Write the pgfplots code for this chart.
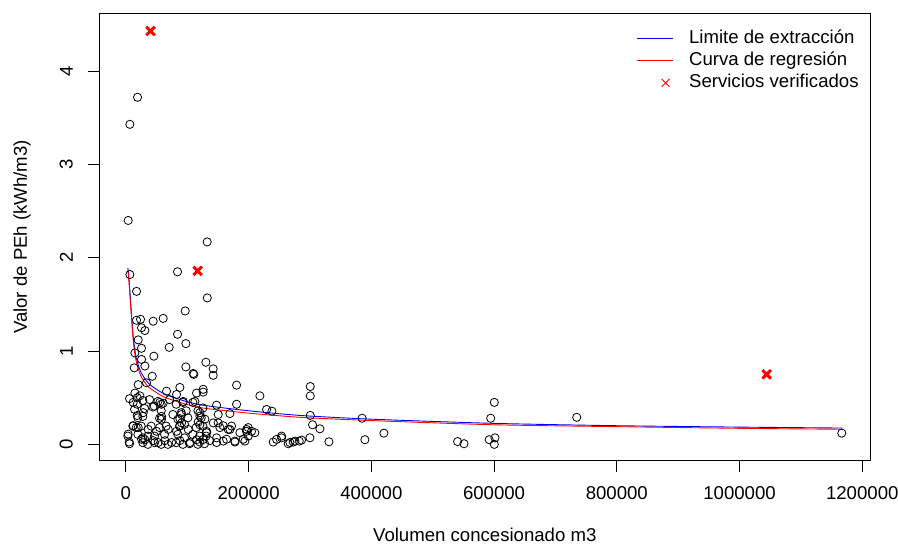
\documentclass[border=0pt]{standalone}
\usepackage{fontspec}
\setmainfont{Liberation Sans}
\usepackage{pgfplots}
\pgfplotsset{compat=1.18}
\newcommand{\fs}{\fontsize{18.6}{22}\selectfont}
\begin{document}
\begin{tikzpicture}
\begin{axis}[
  scale only axis, width=771pt, height=447.4pt,
  xmin=-43300, xmax=1213100, ymin=-0.175, ymax=4.62,
  axis line style={line width=0.8pt, black},
  xtick={0,200000,400000,600000,800000,1000000,1200000},
  xticklabels={0,200000,400000,600000,800000,1000000,1200000},
  ytick={0,1,2,3,4}, yticklabels={0,1,2,3,4},
  scaled x ticks=false, scaled y ticks=false,
  tick align=outside, xtick pos=bottom, ytick pos=left,
  major tick length=11pt,
  tick style={line width=0.8pt, black},
  every tick label/.append style={font=\fs},
  xticklabel style={anchor=north},
  yticklabel style={rotate=90, anchor=south},
  xticklabel shift=11pt, yticklabel shift=12pt,
  every axis x label/.style={at={(axis description cs:0.5,-0.1665)}, anchor=center, font=\fs},
  every axis y label/.style={at={(axis description cs:-0.10026,0.5)}, rotate=90, anchor=center, font=\fs},
  xlabel={Volumen concesionado m3},
  ylabel={Valor de PEh (kWh/m3)},
  legend style={at={(axis description cs:0.6961,0.963)}, anchor=north west, draw=none, fill=none,
    inner sep=0pt, font=\fs, row sep=4.5pt,
    nodes={inner sep=0pt, text height=13.5pt, text depth=4pt}},
  legend cell align=left,
  legend image code/.code={\draw[#1] (0pt,0pt) -- (36pt,0pt); \path (52pt,0pt);},
]
\addplot[only marks, mark=o, mark size=4.1pt, mark options={line width=0.8pt, black}, forget plot] table[row sep=\\] {
x y\\
19000 3.72\\ 6500 3.43\\ 3800 2.40\\ 132500 2.17\\
6500 1.82\\ 84200 1.85\\ 17400 1.64\\ 132600 1.57\\ 96700 1.43\\
17400 1.33\\ 23900 1.34\\ 44500 1.32\\ 60800 1.35\\ 25500 1.25\\ 31000 1.22\\
84200 1.18\\ 97800 1.08\\ 20100 1.12\\ 25500 1.03\\ 70600 1.04\\ 45600 0.945\\
14700 0.98\\ 25500 0.91\\ 13600 0.82\\ 31000 0.84\\ 97800 0.83\\ 109700 0.76\\
110800 0.75\\ 130400 0.88\\ 142300 0.81\\ 142300 0.74\\ 42900 0.73\\ 20100 0.64\\
33700 0.66\\ 180400 0.635\\ 218400 0.52\\ 88000 0.61\\ 66300 0.57\\ 14700 0.55\\
22800 0.52\\ 11950 0.45\\ 18500 0.43\\ 82600 0.535\\ 115200 0.55\\ 126000 0.56\\
112500 0.46\\ 55400 0.45\\ 60800 0.44\\ 93500 0.46\\ 46200 0.41\\ 147800 0.42\\
180400 0.43\\ 229300 0.374\\ 238000 0.356\\ 18500 0.31\\ 28300 0.34\\ 58100 0.30\\
90700 0.32\\ 120600 0.34\\ 150500 0.32\\ 169500 0.33\\ 58100 0.27\\ 88000 0.275\\
90700 0.23\\ 117900 0.24\\ 120600 0.21\\ 88000 0.20\\ 150500 0.23\\ 158600 0.20\\
11950 0.20\\ 20100 0.18\\ 36400 0.16\\ 50000 0.14\\ 69000 0.16\\ 82600 0.14\\
101600 0.16\\ 131500 0.14\\ 169500 0.16\\ 196700 0.14\\ 199400 0.18\\ 3800 0.11\\
5400 0.025\\ 25500 0.055\\ 31000 0.05\\ 44500 0.04\\ 52700 0.02\\ 63600 0.04\\
74400 0.02\\ 88000 0.04\\ 104300 0.02\\ 115200 0.05\\ 120600 0.025\\ 136900 0.04\\
147800 0.02\\ 164100 0.055\\ 177700 0.025\\ 191300 0.055\\ 210200 0.125\\ 240100 0.025\\
253700 0.07\\ 267300 0.02\\ 275500 0.035\\
5980 0.49\\ 18470 0.50\\ 27700 0.47\\ 38570 0.48\\ 52160 0.46\\ 57600 0.43\\
71170 0.48\\ 82040 0.43\\ 92900 0.45\\ 109200 0.45\\ 14130 0.375\\ 30420 0.385\\
44000 0.40\\ 57600 0.36\\ 90200 0.34\\ 98300 0.36\\ 117400 0.36\\ 125500 0.39\\
19560 0.285\\ 27700 0.30\\ 54870 0.28\\ 76600 0.32\\ 84800 0.27\\ 101100 0.285\\
122800 0.285\\ 11410 0.196\\ 16840 0.18\\ 25000 0.196\\ 41290 0.196\\ 54870 0.18\\
65740 0.196\\ 87470 0.196\\ 95620 0.214\\ 114600 0.18\\ 125500 0.196\\ 3260 0.089\\
19560 0.107\\ 27700 0.07\\ 35860 0.089\\ 46720 0.089\\ 63020 0.107\\ 84800 0.107\\
95620 0.07\\ 109200 0.107\\ 120100 0.089\\ 130900 0.089\\ 5980 0.007\\ 27700 0.018\\
35860 0.0\\ 46720 0.018\\ 57600 0.0\\ 68460 0.0\\ 82040 0.018\\ 92900 0.0\\
103800 0.007\\ 117400 0.0\\ 128200 0.007\\
304200 0.21\\ 316200 0.167\\ 204800 0.14\\ 264600 0.007\\ 272700 0.025\\ 282500 0.035\\
286300 0.046\\ 299900 0.071\\ 330900 0.028\\ 126000 0.59\\ 120620 0.303\\ 128800 0.27\\
142400 0.23\\ 153200 0.18\\ 166800 0.16\\ 172200 0.196\\ 185800 0.125\\ 196700 0.16\\
199400 0.089\\ 177700 0.035\\ 194000 0.035\\ 245600 0.053\\ 253700 0.089\\ 131500 0.125\\
126000 0.053\\ 147800 0.07\\ 158600 0.035\\
300500 0.62\\ 300500 0.52\\ 300500 0.31\\ 385000 0.28\\ 389500 0.05\\ 420500 0.12\\
540600 0.03\\ 551000 0.007\\ 594500 0.28\\ 600400 0.45\\ 592000 0.05\\ 601500 0.07\\
600400 0.0\\ 734700 0.29\\ 1166600 0.12\\
};
\addplot[blue, line width=0.9pt, smooth, tension=0.4] table[row sep=\\] {
x y\\
3300 1.89\\ 5000 1.78\\ 7000 1.60\\ 9800 1.34\\ 12500 1.12\\ 16800 0.93\\ 24000 0.78\\
36000 0.66\\ 50000 0.59\\ 63000 0.54\\ 93000 0.47\\ 125000 0.42\\ 200000 0.36\\
284000 0.31\\ 400000 0.27\\ 600000 0.225\\ 800000 0.20\\ 1000000 0.185\\ 1168000 0.175\\
};
\addlegendentry{Limite de extracción}
\addplot[red, line width=0.9pt, smooth, tension=0.4] table[row sep=\\] {
x y\\
3300 1.87\\ 5000 1.75\\ 7000 1.56\\ 9800 1.30\\ 12500 1.08\\ 16800 0.89\\ 24000 0.74\\
36000 0.62\\ 50000 0.555\\ 63000 0.505\\ 93000 0.44\\ 125000 0.39\\ 200000 0.335\\
284000 0.29\\ 400000 0.255\\ 600000 0.21\\ 800000 0.19\\ 1000000 0.172\\ 1168000 0.162\\
};
\addlegendentry{Curva de regresión}
\addplot[only marks, red, mark=x, mark size=6pt, mark options={line width=3pt},
  legend image code/.code={\draw[red, line width=0.9pt] plot[mark=x, mark size=5.5pt, mark options={line width=0.9pt}] coordinates {(29pt,0pt)}; \path (0pt,0pt) (52pt,0pt);}]
  coordinates {(40200,4.43) (117000,1.86) (1044300,0.75)};
\addlegendentry{Servicios verificados}
\end{axis}
\pgfresetboundingbox
\path[use as bounding box] (-99.3pt,-83.3pt) rectangle (798.7pt,460.7pt);
\end{tikzpicture}
\end{document}
